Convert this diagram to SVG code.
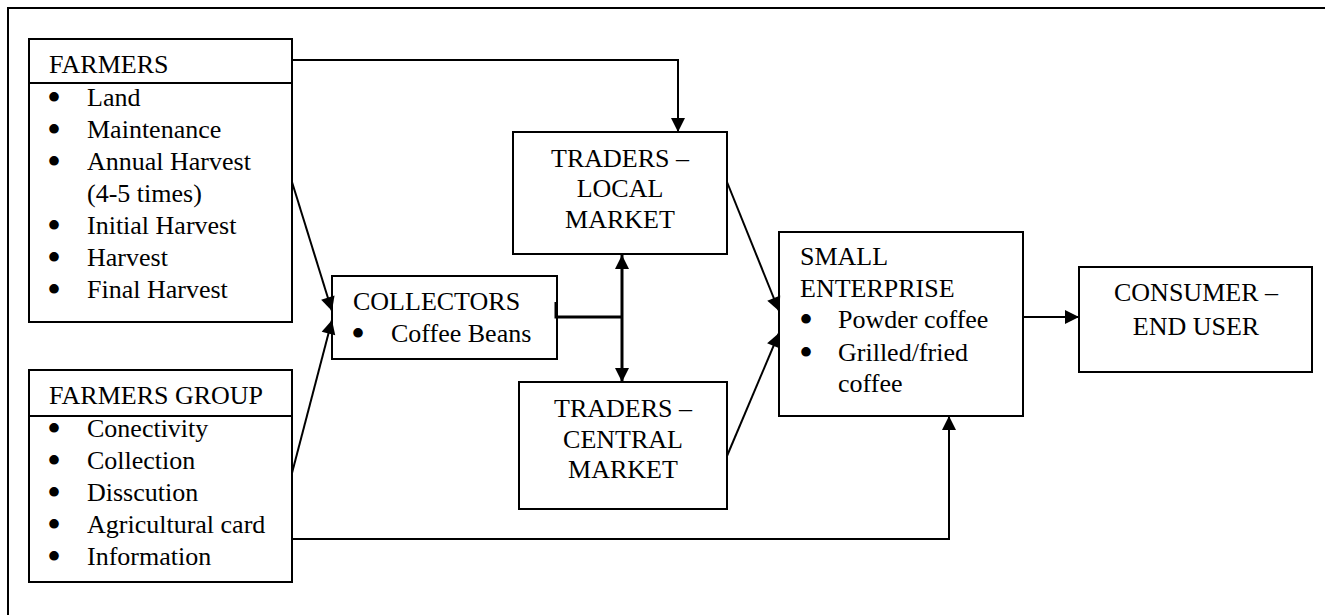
<svg xmlns="http://www.w3.org/2000/svg" width="1325" height="615" viewBox="0 0 1325 615">
<style>
  .box { fill: #ffffff; stroke: #000000; stroke-width: 2; }
  .ln { fill: none; stroke: #000000; stroke-width: 2; }
  .thk { fill: none; stroke: #000000; stroke-width: 3; }
  text { font-family: "Liberation Serif", "Times New Roman", Tinos, serif; font-size: 26px; fill: #000000; }
  .c { text-anchor: middle; }
  .b { text-anchor: middle; font-size: 40px; }
</style>
<defs>
  <marker id="arr" markerUnits="userSpaceOnUse" markerWidth="16" markerHeight="16" viewBox="0 0 16 16" refX="15" refY="8" orient="auto">
    <path d="M1,1 L15,8 L1,15 Z" fill="#000000"/>
  </marker>
</defs>
<rect x="0" y="0" width="1325" height="615" fill="#ffffff"/>
<g id="frame">
  <path class="ln" d="M8,615 L8,8 L1325,8"/>
</g>
<g id="farmers">
  <rect class="box" x="29" y="39" width="263" height="283"/>
  <line class="ln" x1="29" y1="83" x2="292" y2="83"/>
  <text x="49" y="73">FARMERS</text>
  <text class="b" x="54" y="111">•</text><text x="87" y="106">Land</text>
  <text class="b" x="54" y="143">•</text><text x="87" y="138">Maintenance</text>
  <text class="b" x="54" y="175">•</text><text x="87" y="170">Annual Harvest</text>
  <text x="87" y="202">(4-5 times)</text>
  <text class="b" x="54" y="239">•</text><text x="87" y="234">Initial Harvest</text>
  <text class="b" x="54" y="271">•</text><text x="87" y="266">Harvest</text>
  <text class="b" x="54" y="303">•</text><text x="87" y="298">Final Harvest</text>
</g>
<g id="farmers-group">
  <rect class="box" x="29" y="370" width="263" height="212"/>
  <line class="ln" x1="29" y1="416" x2="292" y2="416"/>
  <text x="49" y="404">FARMERS GROUP</text>
  <text class="b" x="54" y="442">•</text><text x="87" y="437">Conectivity</text>
  <text class="b" x="54" y="474">•</text><text x="87" y="469">Collection</text>
  <text class="b" x="54" y="506">•</text><text x="87" y="501">Disscution</text>
  <text class="b" x="54" y="538">•</text><text x="87" y="533">Agricultural card</text>
  <text class="b" x="54" y="570">•</text><text x="87" y="565">Information</text>
</g>
<g id="collectors">
  <rect class="box" x="332" y="276" width="225" height="83"/>
  <text x="353" y="310">COLLECTORS</text>
  <text class="b" x="358" y="347">•</text><text x="391" y="342">Coffee Beans</text>
</g>
<g id="traders-local">
  <rect class="box" x="513" y="132" width="214" height="122"/>
  <text class="c" x="620" y="167">TRADERS –</text>
  <text class="c" x="620" y="197">LOCAL</text>
  <text class="c" x="620" y="228">MARKET</text>
</g>
<g id="traders-central">
  <rect class="box" x="519" y="382" width="208" height="127"/>
  <text class="c" x="623" y="417">TRADERS –</text>
  <text class="c" x="623" y="448">CENTRAL</text>
  <text class="c" x="623" y="478">MARKET</text>
</g>
<g id="small-enterprise">
  <rect class="box" x="779" y="232" width="244" height="184"/>
  <text x="800" y="265">SMALL</text>
  <text x="800" y="297">ENTERPRISE</text>
  <text class="b" x="806" y="333">•</text><text x="838" y="328">Powder coffee</text>
  <text class="b" x="806" y="366">•</text><text x="838" y="361">Grilled/fried</text>
  <text x="838" y="392">coffee</text>
</g>
<g id="consumer">
  <rect class="box" x="1079" y="267" width="233" height="105"/>
  <text class="c" x="1196" y="301">CONSUMER –</text>
  <text class="c" x="1196" y="335">END USER</text>
</g>
<g id="connectors">
  <path class="ln" d="M292,60 L678,60 L678,132" marker-end="url(#arr)"/>
  <path class="ln" d="M292,182 L332,311" marker-end="url(#arr)"/>
  <path class="ln" d="M292,473 L332,320" marker-end="url(#arr)"/>
  <path class="thk" d="M556,302 L556,317 L622,317"/>
  <path class="thk" d="M622,317 L622,255" marker-end="url(#arr)"/>
  <path class="thk" d="M622,317 L622,382" marker-end="url(#arr)"/>
  <path class="ln" d="M727,182 L779,311" marker-end="url(#arr)"/>
  <path class="ln" d="M727,456 L779,333" marker-end="url(#arr)"/>
  <path class="ln" d="M1023,317 L1079,317" marker-end="url(#arr)"/>
  <path class="ln" d="M292,539 L949,539 L949,416" marker-end="url(#arr)"/>
</g>
</svg>
